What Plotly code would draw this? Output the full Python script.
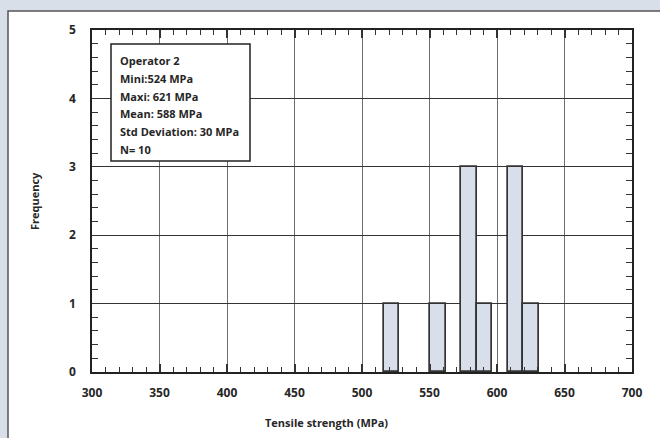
import plotly.graph_objects as go

# Histogram data (bin centers in MPa, counts)
bin_centers = [521.75, 556.25, 579.25, 590.75, 613.75, 625.25]
bin_width = 11.5
counts = [1, 1, 3, 1, 3, 1]

x_ticks = [300, 350, 400, 450, 500, 550, 600, 650, 700]
y_ticks = [0, 1, 2, 3, 4, 5]

stats_lines = ["Operator 2", "Mini:524 MPa", "Maxi: 621 MPa", "Mean: 588 MPa",
               "Std Deviation: 30 MPa", "N= 10"]

x_title = "Tensile strength (MPa)"
y_title = "Frequency"

FONT = "Open Sans"
TXT = "#262626"

fig = go.Figure()
fig.add_trace(go.Bar(
    x=bin_centers, y=counts, width=[bin_width] * len(counts),
    marker=dict(color="#d8deea", line=dict(color="#333333", width=1.7)),
    showlegend=False, hoverinfo="skip",
))

W, H = 660, 438
ml, mr, mt, mb = 92, 28, 30, 66
pw, ph = W - ml - mr, H - mt - mb

def px2x(px):
    return (px - ml) / pw

def py2y(py):
    return (H - mb - py) / ph

shapes = [
    # white panel with border
    dict(type="rect", xref="paper", yref="paper", x0=px2x(8), x1=px2x(700),
         y0=py2y(480), y1=py2y(11), fillcolor="white",
         line=dict(color="#555555", width=1.5), layer="below"),
    # stats box
    dict(type="rect", xref="paper", yref="paper", x0=px2x(111), x1=px2x(250),
         y0=py2y(161), y1=py2y(44), fillcolor="white",
         line=dict(color="#222222", width=1.5), layer="above"),
]

annotations = []
for i, line in enumerate(stats_lines):
    annotations.append(dict(
        xref="paper", yref="paper", x=px2x(118), y=py2y(60.5 + i * 17.8),
        xanchor="left", yanchor="middle", text=line, showarrow=False,
        font=dict(family=FONT, size=11, color=TXT, weight=700),
    ))
annotations.append(dict(
    xref="paper", yref="paper", x=px2x(326), y=py2y(422),
    xanchor="center", yanchor="middle", text=x_title, showarrow=False,
    font=dict(family=FONT, size=11, color=TXT, weight=700),
))
annotations.append(dict(
    xref="paper", yref="paper", x=px2x(34), y=py2y(201),
    xanchor="center", yanchor="middle", text=y_title, showarrow=False,
    textangle=-90, font=dict(family=FONT, size=11, color=TXT, weight=700),
))

fig.update_layout(
    width=W, height=H,
    margin=dict(l=ml, r=mr, t=mt, b=mb),
    paper_bgcolor="#d9dfe9", plot_bgcolor="white",
    shapes=shapes, annotations=annotations,
    bargap=0,
)

fig.update_xaxes(
    range=[300, 700], tickmode="array", tickvals=x_ticks,
    showgrid=True, gridcolor="#6e6e6e", gridwidth=1.2,
    showline=True, linecolor="#222222", linewidth=1.5, mirror="ticks",
    ticks="inside", ticklen=8, tickcolor="#333333", tickwidth=1.5,
    minor=dict(dtick=10, ticks="inside", ticklen=5, tickcolor="#333333", tickwidth=1, showgrid=False),
    tickfont=dict(family=FONT, size=12, color=TXT, weight=700),
    ticklabelstandoff=9, zeroline=False,
)
fig.update_yaxes(
    range=[0, 5], tickmode="array", tickvals=y_ticks,
    showgrid=True, gridcolor="#333333", gridwidth=1,
    showline=True, linecolor="#222222", linewidth=1.5, mirror="ticks",
    ticks="inside", ticklen=6, tickcolor="#333333", tickwidth=1.2,
    minor=dict(dtick=0.2, ticks="inside", ticklen=6, tickcolor="#333333", tickwidth=1, showgrid=False),
    tickfont=dict(family=FONT, size=12, color=TXT, weight=700),
    ticklabelstandoff=12, zeroline=False,
)

fig.write_html("out.html", config={"displayModeBar": False},
               post_script="document.body.style.margin='0';")
